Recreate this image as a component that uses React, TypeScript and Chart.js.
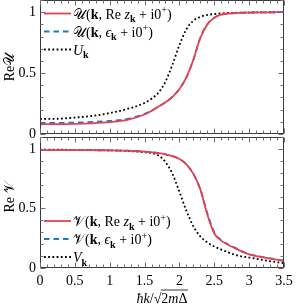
import React, { useEffect, useRef } from 'react';
import { Chart, registerables } from 'chart.js';

Chart.register(...registerables);

// ---------- data ----------
const kValues = [0, 0.25, 0.5, 0.75, 1, 1.25, 1.5, 1.6, 1.7, 1.8, 1.9, 2.0, 2.1, 2.2, 2.3, 2.4, 2.5, 2.6, 2.8, 3.0, 3.25, 3.5];

// Re U
const uReZ = [0.08, 0.081, 0.083, 0.088, 0.097, 0.115, 0.16, 0.19, 0.225, 0.26, 0.305, 0.37, 0.465, 0.61, 0.79, 0.9, 0.955, 0.98, 0.993, 0.997, 0.999, 1.0];
const uEps = [0.09, 0.091, 0.094, 0.099, 0.107, 0.124, 0.165, 0.192, 0.226, 0.261, 0.306, 0.37, 0.465, 0.61, 0.79, 0.9, 0.955, 0.98, 0.993, 0.997, 0.999, 1.0];
const uBCS = [0.123, 0.125, 0.135, 0.148, 0.172, 0.205, 0.255, 0.29, 0.34, 0.43, 0.57, 0.73, 0.86, 0.93, 0.962, 0.977, 0.985, 0.99, 0.995, 0.997, 0.999, 1.0];

// Re V
const vReZ = [0.99, 0.99, 0.99, 0.989, 0.988, 0.985, 0.978, 0.972, 0.965, 0.955, 0.94, 0.915, 0.87, 0.79, 0.66, 0.45, 0.29, 0.23, 0.165, 0.115, 0.085, 0.06];
const vEps = [0.99, 0.99, 0.99, 0.989, 0.988, 0.985, 0.978, 0.972, 0.965, 0.955, 0.94, 0.915, 0.87, 0.79, 0.66, 0.46, 0.3, 0.235, 0.17, 0.117, 0.086, 0.06];
const vBCS = [0.993, 0.993, 0.992, 0.99, 0.988, 0.983, 0.972, 0.965, 0.945, 0.89, 0.79, 0.64, 0.48, 0.35, 0.265, 0.215, 0.18, 0.155, 0.11, 0.088, 0.062, 0.04];

const xTickValues = [0, 0.5, 1, 1.5, 2, 2.5, 3, 3.5];
const xTickLabels = ['0', '0.5', '1', '1.5', '2', '2.5', '3', '3.5'];
const yTickValues = [0, 0.5, 1];
const yTickLabels = ['0', '0.5', '1'];

// ---------- styles ----------
const FONT = '"Liberation Serif", "DejaVu Serif", serif';
const RED = '#e8404f';
const BLUE = '#1a78c2';
const BLACK = '#000000';
const FRAME = '#383838';

type Seg = { t: string; f?: 'r' | 'i' | 'b'; s?: number; dy?: number };

function segFont(seg: Seg, size: number) {
  const px = size * (seg.s ?? 1);
  const st = seg.f === 'i' ? 'italic ' : '';
  const wt = seg.f === 'b' ? 'bold ' : '';
  return `${st}${wt}${px}px ${FONT}`;
}

function measureRich(ctx: CanvasRenderingContext2D, segs: Seg[], size: number) {
  let w = 0;
  for (const s of segs) {
    ctx.font = segFont(s, size);
    w += ctx.measureText(s.t).width;
  }
  return w;
}

function drawRich(ctx: CanvasRenderingContext2D, x: number, y: number, segs: Seg[], size: number) {
  let cx = x;
  ctx.textBaseline = 'alphabetic';
  ctx.textAlign = 'left';
  for (const s of segs) {
    ctx.font = segFont(s, size);
    ctx.fillText(s.t, cx, y + (s.dy ?? 0));
    cx += ctx.measureText(s.t).width;
  }
  return cx;
}

type Series = { label: string; data: number[]; color: string; dash: number[]; width: number };
type LegendEntry = { segs: Seg[]; color: string; dash: number[]; width: number };

function legendFor(letter: string, bcs: string): Seg[][] {
  return [
    [{ t: letter }, { t: '(' }, { t: 'k', f: 'b' }, { t: ', Re ' }, { t: 'z', f: 'i' }, { t: 'k', f: 'b', s: 0.72, dy: 3.5 }, { t: ' + i0' }, { t: '+', s: 0.72, dy: -5.5 }, { t: ')' }],
    [{ t: letter }, { t: '(' }, { t: 'k', f: 'b' }, { t: ', ' }, { t: 'ϵ', f: 'i' }, { t: 'k', f: 'b', s: 0.72, dy: 3.5 }, { t: ' + i0' }, { t: '+', s: 0.72, dy: -5.5 }, { t: ')' }],
    [{ t: bcs, f: 'i' }, { t: 'k', f: 'b', s: 0.72, dy: 3.5 }],
  ];
}

function makeDecor(opts: {
  legend: LegendEntry[];
  legendY: number[];
  yTitle: Seg[];
  yTitleCenter: number;
  xTitle: boolean;
}) {
  return {
    id: 'decor',
    afterDraw(chart: any) {
      const ctx: CanvasRenderingContext2D = chart.ctx;
      const ca = chart.chartArea;
      const xs = chart.scales.x;
      const ys = chart.scales.y;
      ctx.save();
      // frame
      ctx.strokeStyle = FRAME;
      ctx.lineWidth = 1;
      ctx.setLineDash([]);
      const L = Math.round(ca.left) + 0.5, R = Math.round(ca.right) - 0.5;
      const T = Math.round(ca.top) + 0.5, B = Math.round(ca.bottom) - 0.5;
      ctx.beginPath();
      ctx.rect(L, T, R - L, B - T);
      ctx.stroke();
      // ticks
      ctx.strokeStyle = '#707070';
      ctx.beginPath();
      for (let i = 0; i <= 35; i++) {
        const v = i / 10;
        const major = i % 5 === 0;
        const len = major ? 5 : 3;
        const px = Math.round(xs.getPixelForValue(v)) + 0.5;
        ctx.moveTo(px, B); ctx.lineTo(px, B - len);
        ctx.moveTo(px, T); ctx.lineTo(px, T + len);
      }
      for (let i = 0; i <= 11; i++) {
        const v = i / 10;
        const major = i % 5 === 0;
        const len = major ? 5 : 3;
        const py = Math.round(ys.getPixelForValue(v)) + 0.5;
        ctx.moveTo(L, py); ctx.lineTo(L + len, py);
        ctx.moveTo(R, py); ctx.lineTo(R - len, py);
      }
      ctx.stroke();
      // legend
      ctx.fillStyle = '#000';
      opts.legend.forEach((e, i) => {
        const y = opts.legendY[i];
        ctx.strokeStyle = e.color;
        ctx.lineWidth = e.width;
        ctx.setLineDash(e.dash);
        ctx.beginPath();
        ctx.moveTo(44, y);
        ctx.lineTo(71, y);
        ctx.stroke();
        ctx.setLineDash([]);
        drawRich(ctx, 73, y + 5, e.segs, 14);
      });
      // y title
      ctx.save();
      ctx.translate(14, opts.yTitleCenter);
      ctx.rotate(-Math.PI / 2);
      const w = measureRich(ctx, opts.yTitle, 14);
      drawRich(ctx, -w / 2, 0, opts.yTitle, 14);
      ctx.restore();
      // x title
      if (opts.xTitle) {
        const segsA: Seg[] = [{ t: 'ħk', f: 'i' }, { t: '/√' }];
        const segsB: Seg[] = [{ t: '2' }, { t: 'm', f: 'i' }, { t: 'Δ' }];
        const wA = measureRich(ctx, segsA, 14);
        const wB = measureRich(ctx, segsB, 14);
        const cx = (ca.left + ca.right) / 2;
        const x0 = cx - (wA + wB) / 2;
        const base = ca.bottom + 34.5;
        const xm = drawRich(ctx, x0, base, segsA, 14);
        const xe = drawRich(ctx, xm, base, segsB, 14);
        ctx.strokeStyle = '#000';
        ctx.lineWidth = 0.8;
        ctx.beginPath();
        ctx.moveTo(xm - 0.5, base - 12.5);
        ctx.lineTo(xe + 0.5, base - 12.5);
        ctx.stroke();
      }
      ctx.restore();
    },
  };
}

function buildConfig(series: Series[], showX: boolean, padding: any, decor: any) {
  return {
    type: 'line' as const,
    data: {
      datasets: series.map((s) => ({
        label: s.label,
        data: kValues.map((k, i) => ({ x: k, y: s.data[i] })),
        borderColor: s.color,
        borderWidth: s.width,
        borderDash: s.dash,
        pointRadius: 0,
        fill: false,
        cubicInterpolationMode: 'monotone' as const,
      })),
    },
    options: {
      animation: false as const,
      responsive: false,
      devicePixelRatio: 1,
      layout: { padding },
      plugins: { legend: { display: false }, tooltip: { enabled: false }, title: { display: false } },
      scales: {
        x: {
          type: 'linear' as const,
          min: 0,
          max: 3.5,
          display: showX,
          grid: { display: false, drawTicks: false },
          border: { display: false },
          afterBuildTicks: (scale: any) => {
            scale.ticks = xTickValues.map((v) => ({ value: v }));
          },
          afterFit: (scale: any) => {
            scale.height = showX ? 40 : 0;
            scale.paddingLeft = 0;
            scale.paddingRight = 0;
          },
          ticks: {
            autoSkip: false,
            maxRotation: 0,
            padding: 5,
            color: '#000',
            font: { family: FONT, size: 14 },
            callback: (_v: any, i: number) => xTickLabels[i],
          },
        },
        y: {
          type: 'linear' as const,
          min: 0,
          max: 1.1,
          grid: { display: false, drawTicks: false },
          border: { display: false },
          afterBuildTicks: (scale: any) => {
            scale.ticks = yTickValues.map((v) => ({ value: v }));
          },
          afterFit: (scale: any) => {
            scale.width = 40;
            scale.paddingTop = 0;
            scale.paddingBottom = 0;
          },
          ticks: {
            autoSkip: false,
            padding: 4,
            color: '#000',
            font: { family: FONT, size: 14 },
            callback: (_v: any, i: number) => yTickLabels[i],
          },
        },
      },
    },
    plugins: [decor],
  };
}

function Panel(props: { top: number; height: number; config: any }) {
  const ref = useRef<HTMLCanvasElement | null>(null);
  useEffect(() => {
    if (!ref.current) return;
    const chart = new Chart(ref.current, props.config);
    return () => chart.destroy();
  }, []);
  return (
    <canvas
      ref={ref}
      width={298}
      height={props.height}
      style={{ position: 'absolute', left: 0, top: props.top, width: 298, height: props.height }}
    />
  );
}

export default function App() {
  const topSeries: Series[] = [
    { label: 'U Re z', data: uReZ, color: RED, dash: [], width: 1.8 },
    { label: 'U eps', data: uEps, color: BLUE, dash: [5.5, 4], width: 1.8 },
    { label: 'U_k', data: uBCS, color: BLACK, dash: [1.8, 2.4], width: 1.8 },
  ];
  const botSeries: Series[] = [
    { label: 'V Re z', data: vReZ, color: RED, dash: [], width: 1.8 },
    { label: 'V eps', data: vEps, color: BLUE, dash: [5.5, 4], width: 1.8 },
    { label: 'V_k', data: vBCS, color: BLACK, dash: [1.8, 2.4], width: 1.8 },
  ];
  const topLeg = legendFor('𝒰', 'U');
  const botLeg = legendFor('𝒱', 'V');
  const mkLeg = (segs: Seg[][]): LegendEntry[] =>
    segs.map((s, i) => ({ segs: s, color: [RED, BLUE, BLACK][i], dash: [[], [5.5, 4], [1.8, 2.4]][i], width: 1.8 }));

  const topDecor = makeDecor({
    legend: mkLeg(topLeg),
    legendY: [13.5, 31.5, 49.5],
    yTitle: [{ t: 'Re' }, { t: '𝒰' }],
    yTitleCenter: 67,
    xTitle: false,
  });
  const botDecor = makeDecor({
    legend: mkLeg(botLeg),
    legendY: [85, 103, 121],
    yTitle: [{ t: 'Re ' }, { t: '𝒱' }],
    yTitleCenter: 61,
    xTitle: true,
  });
  const topConfig = buildConfig(topSeries, false, { left: 0, right: 14, top: 0, bottom: 11 }, topDecor);
  const botConfig = buildConfig(botSeries, true, { left: 0, right: 14, top: 1, bottom: 0 }, botDecor);

  return (
    <div style={{ position: 'absolute', left: 0, top: 0, width: 298, height: 308, background: '#fff' }}>
      <Panel top={136} height={172} config={botConfig} />
      <Panel top={0} height={145} config={topConfig} />
    </div>
  );
}
